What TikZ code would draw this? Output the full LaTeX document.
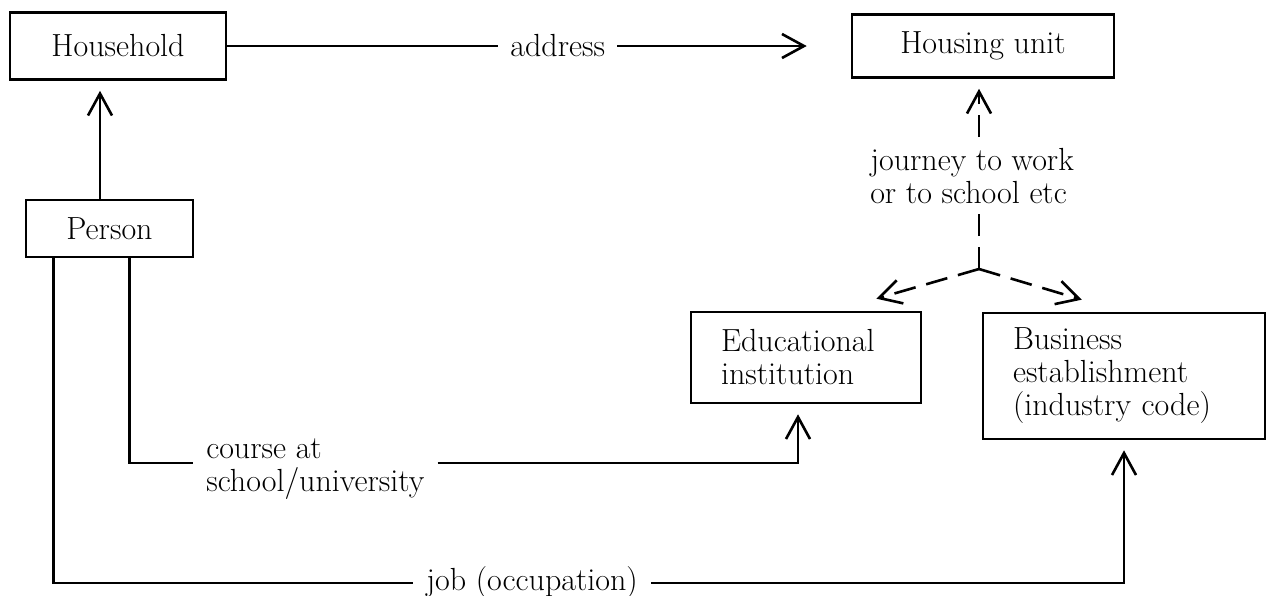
\documentclass[tikz,border=0pt]{standalone}
\usetikzlibrary{arrows.meta}
\begin{document}
\begin{tikzpicture}[x=1pt,y=-1pt,line width=2.6pt,
  font=\fontsize{32}{33}\selectfont,
  box/.style={rectangle,draw,inner sep=0pt},
  textbox/.style={rectangle,draw,align=left,inner xsep=30pt,inner ysep=0pt},
  tag/.style={fill=white,inner xsep=12pt,inner ysep=2pt},
  conn/.style={-{Straight Barb[length=22pt,width=24pt]},shorten >=10pt},
  dashconn/.style={conn,dash pattern=on 22pt off 11pt}]
  \useasboundingbox (0,0) rectangle (1271,595);

  % Define nodes
  \node (household) [box,minimum width=216pt,minimum height=67pt] at (118,46) {Household};
  \node (person) [box,minimum width=167pt,minimum height=57pt] at (109.5,228.5) {Person};
  \node (housing) [box,minimum width=262pt,minimum height=63pt] at (983,46) {Housing unit};
  \node (educ) [textbox,text width=170pt,minimum height=91pt] at (806,357.5) {Educational\\institution};
  \node (business) [textbox,text width=222pt,minimum height=126pt] at (1124,376) {Business\\establishment\\(industry code)};
  \node (course) [tag,anchor=west,align=left] at (193,469) {course at\\school/university};
  \node (job) [tag,anchor=west] at (413,583) {job (occupation)};
  \coordinate (fork) at (979,269);

  % Draw edges
  \draw [conn] ([xshift=-9.5pt]person.north) -- ([xshift=-18pt]household.south);
  \draw [conn,shorten >=44pt] (household) -- node[tag,pos=0.53] {address} (housing);
  \draw [dashconn] (fork) -- node[tag,pos=0.49,align=left,inner xsep=2pt,xshift=-7pt] {journey to work\\or to school etc} (fork |- housing.south);
  \draw [dashconn,shorten >=0pt] (fork) -- ([shift={(-46,-12)}]educ.north east);
  \draw [dashconn,shorten >=0pt] (fork) -- ([shift={(100,-12)}]business.north west);
  \draw ([xshift=-65pt]person.south east) |- ([yshift=6pt]course.west);
  \draw [conn] ([yshift=6pt]course.east) -| ([xshift=-8pt]educ.south);
  \draw ([xshift=29pt]person.south west) |- (job.west);
  \draw [conn] (job.east) -| (business.south);
\end{tikzpicture}
\end{document}
